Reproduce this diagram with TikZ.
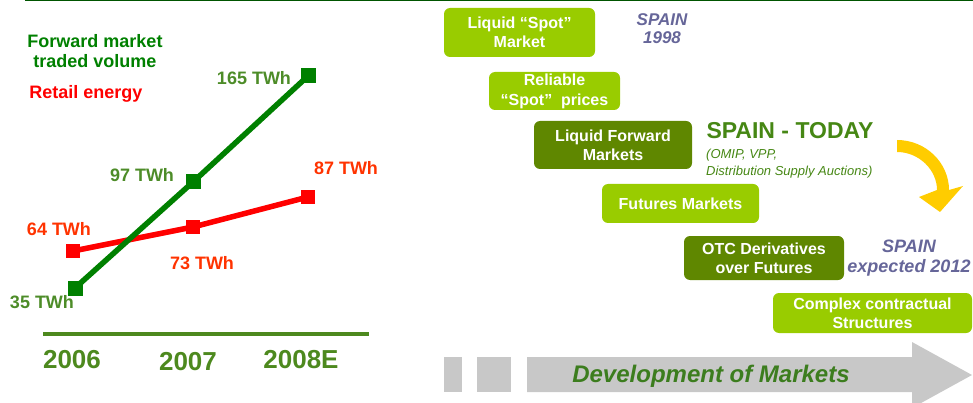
\documentclass[tikz,border=0pt]{standalone}
\usepackage{fontspec}
\setmainfont{Liberation Sans}
\definecolor{lg}{RGB}{153,204,0}
\definecolor{dg}{RGB}{95,135,0}
\definecolor{lnG}{RGB}{0,128,0}
\definecolor{lnR}{RGB}{255,0,0}
\definecolor{olv}{RGB}{77,140,40}
\definecolor{org}{RGB}{255,51,0}
\definecolor{axisg}{RGB}{77,137,30}
\definecolor{purp}{RGB}{102,102,153}
\definecolor{yel}{RGB}{255,204,0}
\definecolor{today}{RGB}{70,135,20}
\definecolor{topg}{RGB}{0,85,0}
\definecolor{arrg}{RGB}{200,200,200}
\definecolor{devg}{RGB}{60,125,30}
\begin{document}
\begin{tikzpicture}[x=1pt,y=-1pt,
  f18/.style={font=\bfseries\fontsize{18}{21}\selectfont},
  gsq/.style={fill=lnG,minimum size=15pt,inner sep=0pt},
  rsq/.style={fill=lnR,minimum size=14pt,inner sep=0pt},
  glab/.style={f18,text=olv,inner sep=0pt},
  rlab/.style={f18,text=org,inner sep=0pt},
  year/.style={font=\bfseries\fontsize{26}{30}\selectfont,text=axisg,inner sep=0pt},
  mbox/.style={rounded corners=6pt,text=white,align=center,inner sep=0pt,
    font=\bfseries\fontsize{16}{19}\selectfont},
  lbox/.style={mbox,fill=lg},
  dbox/.style={mbox,fill=dg},
  spn/.style={font=\bfseries\itshape\fontsize{18}{20}\selectfont,text=purp,align=center,inner sep=0pt}
]
\useasboundingbox (0,0) rectangle (973,403);
% top rule
\draw[topg,line width=1.5pt] (25,0.75) -- (973,0.75);
% legend
\node[f18,text=lnG,align=center,inner sep=0pt] (leg1) at (95,51) {Forward market\\[-1pt]traded volume};
\node[f18,text=lnR,inner sep=0pt] (leg2) at (86,94) {Retail energy};
% squares
\node[gsq] (g06) at (75,288) {};
\node[gsq] (g07) at (193,182) {};
\node[gsq] (g08) at (308,76) {};
\node[rsq] (r06) at (73,251) {};
\node[rsq] (r07) at (193,227) {};
\node[rsq] (r08) at (308,197) {};
\draw[lnR,line width=5.5pt] (r06.center) -- (r07.center) -- (r08.center);
\draw[lnG,line width=5.5pt] (g06.center) -- (g07.center) -- (g08.center);
\node[gsq] at (g06) {};
\node[gsq] at (g07) {};
\node[gsq] at (g08) {};
\node[rsq] at (r06) {};
\node[rsq] at (r07) {};
\node[rsq] at (r08) {};
% value labels
\node[glab] (l165) at (254,78) {165 TWh};
\node[glab] (l97) at (142,175) {97 TWh};
\node[glab] (l35) at (42,302) {35 TWh};
\node[rlab] (l87) at (346,168) {87 TWh};
\node[rlab] (l64) at (59,229) {64 TWh};
\node[rlab] (l73) at (202,263) {73 TWh};
% axis
\coordinate (ax1) at (43,334);
\coordinate (ax2) at (369,334);
\draw[axisg,line width=4pt] (ax1) -- (ax2);
\node[year] (y06) at (72,360) {2006};
\node[year] (y07) at (188,362) {2007};
\node[year] (y08) at (301,360) {2008E};
% boxes
\node[lbox,minimum width=151pt,minimum height=49pt] (b1) at (519.5,32.5) {Liquid “Spot”\\Market};
\node[lbox,minimum width=131pt,minimum height=38pt] (b2) at (554.5,91) {Reliable\\[1pt]“Spot”\ \ prices};
\node[dbox,minimum width=158pt,minimum height=48pt] (b3) at (613,145) {Liquid Forward\\Markets};
\node[lbox,minimum width=157pt,minimum height=39pt] (b4) at (680.5,203.5) {Futures Markets};
\node[dbox,minimum width=160pt,minimum height=44pt] (b5) at (764,258) {OTC Derivatives\\over Futures};
\node[lbox,minimum width=199pt,minimum height=40pt] (b6) at (872.5,313) {Complex contractual\\Structures};
% spain texts
\node[spn,font=\bfseries\itshape\fontsize{17}{18}\selectfont] (s98) at (662,29) {SPAIN\\1998};
\node[spn] (s12) at (909,258) {SPAIN\\expected 2012};
\node[font=\bfseries\fontsize{23}{26}\selectfont,text=today,inner sep=0pt] (stoday) at (790,131) {SPAIN - TODAY};
\node[font=\itshape\fontsize{13}{17}\selectfont,text=today,align=left,inner sep=0pt,anchor=west] (omip) at (706,164) {(OMIP, VPP,\\Distribution Supply Auctions)};
% yellow curved arrow
\fill[yel] (897,140) .. controls (926,140) and (949,163) .. (949,190) -- (963,186) -- (940,212) -- (919,197) -- (937,190) .. controls (937,170) and (919,152) .. (897,152) -- cycle;
% grey arrow
\fill[arrg] (444,357) rectangle (462,392);
\fill[arrg] (477,357) rectangle (511,392);
\fill[arrg] (527,357) -- (912,357) -- (912,342) -- (972,375) -- (912,408) -- (912,392) -- (527,392) -- cycle;
\node[font=\bfseries\itshape\fontsize{24}{28}\selectfont,text=devg,inner sep=0pt] (dev) at (711,376) {Development of Markets};
\end{tikzpicture}
\end{document}
